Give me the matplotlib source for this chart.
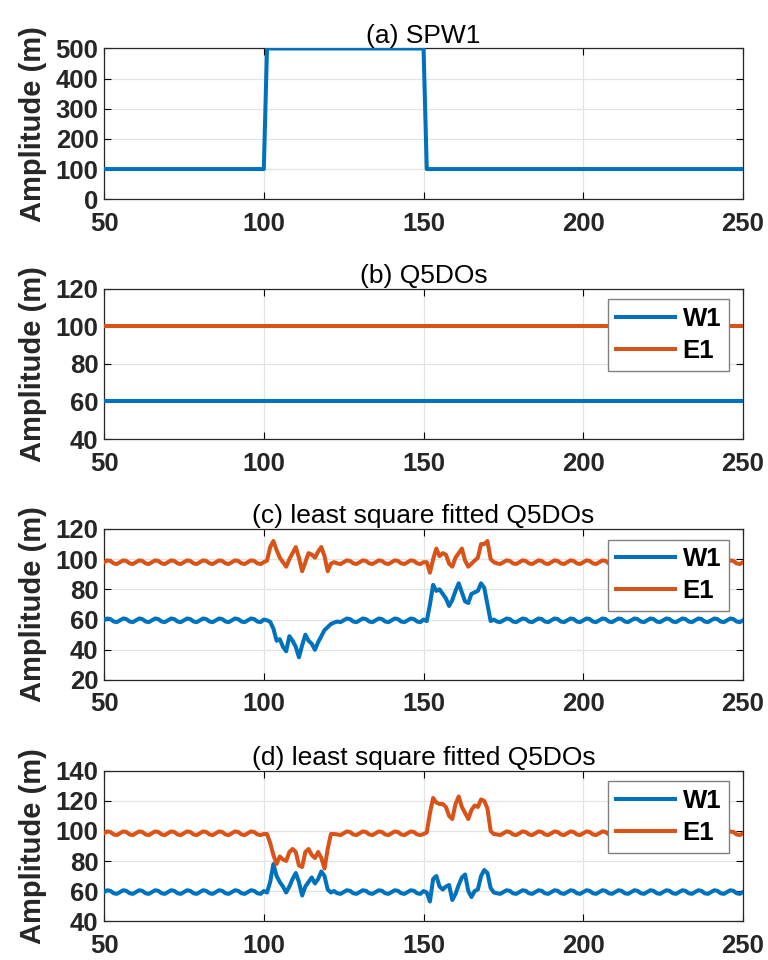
import matplotlib
matplotlib.use("Agg")
import matplotlib.pyplot as plt

plt.rcParams['font.family'] = ['Liberation Sans', 'DejaVu Sans']

# x axis: day index
x = list(range(50, 251))

# (a) SPW1 square pulse
spw1 = [100] * 51 + [500] * 50 + [100] * 100

# (b) Q5DOs
b_w1 = [60] * 201
b_e1 = [100] * 201

# (c) least square fitted Q5DOs
c_w1 = [
    59.5, 60.7, 60.3, 58.7, 58.3, 59.5, 60.7, 60.3, 58.7, 58.3,  # 50
    59.5, 60.7, 60.3, 58.7, 58.3, 59.5, 60.7, 60.3, 58.7, 58.3,  # 60
    59.5, 60.7, 60.3, 58.7, 58.3, 59.5, 60.7, 60.3, 58.7, 58.3,  # 70
    59.5, 60.7, 60.3, 58.7, 58.3, 59.5, 60.7, 60.3, 58.7, 58.3,  # 80
    59.5, 60.7, 60.3, 58.7, 58.3, 59.5, 60.7, 60.3, 58.7, 58.3,  # 90
    60, 59.5, 58.5, 54, 46, 47, 42, 39, 49, 46,                  # 100
    42, 35, 43, 50, 46, 44, 40, 45, 49, 53,                      # 110
    55, 57, 58, 58.7, 58.3, 59.5, 60.7, 60.3, 58.7, 58.3,        # 120
    59.5, 60.7, 60.3, 58.7, 58.3, 59.5, 60.7, 60.3, 58.7, 58.3,  # 130
    59.5, 60.7, 60.3, 58.7, 58.3, 59.5, 60.7, 60.3, 58.7, 58.3,  # 140
    60, 59, 70, 83, 79, 80, 77, 74, 69, 73,                      # 150
    79, 84, 78, 72, 71, 77, 78, 79, 84, 81,                      # 160
    70, 59, 60, 58.7, 58.3, 59.5, 60.7, 60.3, 58.7, 58.3,        # 170
    59.5, 60.7, 60.3, 58.7, 58.3, 59.5, 60.7, 60.3, 58.7, 58.3,  # 180
    59.5, 60.7, 60.3, 58.7, 58.3, 59.5, 60.7, 60.3, 58.7, 58.3,  # 190
    59.5, 60.7, 60.3, 58.7, 58.3, 59.5, 60.7, 60.3, 58.7, 58.3,  # 200
    59.5, 60.7, 60.3, 58.7, 58.3, 59.5, 60.7, 60.3, 58.7, 58.3,  # 210
    59.5, 60.7, 60.3, 58.7, 58.3, 59.5, 60.7, 60.3, 58.7, 58.3,  # 220
    59.5, 60.7, 60.3, 58.7, 58.3, 59.5, 60.7, 60.3, 58.7, 58.3,  # 230
    59.5, 60.7, 60.3, 58.7, 58.3, 59.5, 60.7, 60.3, 58.7, 58.3,  # 240
    59.5,                                                        # 250
]
c_e1 = [
    98, 99.2, 98.8, 97.2, 96.8, 98, 99.2, 98.8, 97.2, 96.8,      # 50
    98, 99.2, 98.8, 97.2, 96.8, 98, 99.2, 98.8, 97.2, 96.8,      # 60
    98, 99.2, 98.8, 97.2, 96.8, 98, 99.2, 98.8, 97.2, 96.8,      # 70
    98, 99.2, 98.8, 97.2, 96.8, 98, 99.2, 98.8, 97.2, 96.8,      # 80
    98, 99.2, 98.8, 97.2, 96.8, 98, 99.2, 98.8, 97.2, 96.8,      # 90
    98, 99, 108, 112, 106, 101, 98, 95, 100, 104,                # 100
    108, 101, 92, 98, 104, 103, 101, 105, 108, 102,              # 110
    92, 97, 98, 97.2, 96.8, 98, 99.2, 98.8, 97.2, 96.8,          # 120
    98, 99.2, 98.8, 97.2, 96.8, 98, 99.2, 98.8, 97.2, 96.8,      # 130
    98, 99.2, 98.8, 97.2, 96.8, 98, 99.2, 98.8, 97.2, 96.8,      # 140
    98, 98, 91, 100, 107, 102, 104, 103, 97, 95,                 # 150
    101, 104, 107, 99, 95, 97, 99, 101, 110, 110,                # 160
    112, 100, 98, 97.2, 96.8, 98, 99.2, 98.8, 97.2, 96.8,        # 170
    98, 99.2, 98.8, 97.2, 96.8, 98, 99.2, 98.8, 97.2, 96.8,      # 180
    98, 99.2, 98.8, 97.2, 96.8, 98, 99.2, 98.8, 97.2, 96.8,      # 190
    98, 99.2, 98.8, 97.2, 96.8, 98, 99.2, 98.8, 97.2, 96.8,      # 200
    98, 99.2, 98.8, 97.2, 96.8, 98, 99.2, 98.8, 97.2, 96.8,      # 210
    98, 99.2, 98.8, 97.2, 96.8, 98, 99.2, 98.8, 97.2, 96.8,      # 220
    98, 99.2, 98.8, 97.2, 96.8, 98, 99.2, 98.8, 97.2, 96.8,      # 230
    98, 99.2, 98.8, 97.2, 96.8, 98, 99.2, 98.8, 97.2, 96.8,      # 240
    98,                                                          # 250
]

# (d) least square fitted Q5DOs
d_w1 = [
    59.3, 60.5, 60.1, 58.5, 58.1, 59.3, 60.5, 60.1, 58.5, 58.1,  # 50
    59.3, 60.5, 60.1, 58.5, 58.1, 59.3, 60.5, 60.1, 58.5, 58.1,  # 60
    59.3, 60.5, 60.1, 58.5, 58.1, 59.3, 60.5, 60.1, 58.5, 58.1,  # 70
    59.3, 60.5, 60.1, 58.5, 58.1, 59.3, 60.5, 60.1, 58.5, 58.1,  # 80
    59.3, 60.5, 60.1, 58.5, 58.1, 59.3, 60.5, 60.1, 58.5, 58.1,  # 90
    60, 59, 66, 78, 70, 66, 63, 59, 63, 68,                      # 100
    72, 66, 57, 63, 66, 69, 65, 68, 73, 70,                      # 110
    61, 59, 60, 58.5, 58.1, 59.3, 60.5, 60.1, 58.5, 58.1,        # 120
    59.3, 60.5, 60.1, 58.5, 58.1, 59.3, 60.5, 60.1, 58.5, 58.1,  # 130
    59.3, 60.5, 60.1, 58.5, 58.1, 59.3, 60.5, 60.1, 58.5, 58.1,  # 140
    60, 59, 53, 68, 70, 63, 61, 63, 64, 54,                      # 150
    58, 64, 69, 71, 60, 56, 60, 61, 70, 74,                      # 160
    72, 62, 59, 58.5, 58.1, 59.3, 60.5, 60.1, 58.5, 58.1,        # 170
    59.3, 60.5, 60.1, 58.5, 58.1, 59.3, 60.5, 60.1, 58.5, 58.1,  # 180
    59.3, 60.5, 60.1, 58.5, 58.1, 59.3, 60.5, 60.1, 58.5, 58.1,  # 190
    59.3, 60.5, 60.1, 58.5, 58.1, 59.3, 60.5, 60.1, 58.5, 58.1,  # 200
    59.3, 60.5, 60.1, 58.5, 58.1, 59.3, 60.5, 60.1, 58.5, 58.1,  # 210
    59.3, 60.5, 60.1, 58.5, 58.1, 59.3, 60.5, 60.1, 58.5, 58.1,  # 220
    59.3, 60.5, 60.1, 58.5, 58.1, 59.3, 60.5, 60.1, 58.5, 58.1,  # 230
    59.3, 60.5, 60.1, 58.5, 58.1, 59.3, 60.5, 60.1, 58.5, 58.1,  # 240
    59.3,                                                        # 250
]
d_e1 = [
    98.5, 99.7, 99.3, 97.7, 97.3, 98.5, 99.7, 99.3, 97.7, 97.3,  # 50
    98.5, 99.7, 99.3, 97.7, 97.3, 98.5, 99.7, 99.3, 97.7, 97.3,  # 60
    98.5, 99.7, 99.3, 97.7, 97.3, 98.5, 99.7, 99.3, 97.7, 97.3,  # 70
    98.5, 99.7, 99.3, 97.7, 97.3, 98.5, 99.7, 99.3, 97.7, 97.3,  # 80
    98.5, 99.7, 99.3, 97.7, 97.3, 98.5, 99.7, 99.3, 97.7, 97.3,  # 90
    98, 98, 92, 84, 78, 83, 81, 80, 86, 88,                      # 100
    86, 77, 76, 86, 88, 84, 82, 86, 82, 75,                      # 110
    88, 98, 98, 97.7, 97.3, 98.5, 99.7, 99.3, 97.7, 97.3,        # 120
    98.5, 99.7, 99.3, 97.7, 97.3, 98.5, 99.7, 99.3, 97.7, 97.3,  # 130
    98.5, 99.7, 99.3, 97.7, 97.3, 98.5, 99.7, 99.3, 97.7, 97.3,  # 140
    98, 99, 112, 122, 119, 118, 118, 116, 110, 108,              # 150
    118, 123, 116, 112, 108, 114, 117, 116, 121, 120,            # 160
    115, 100, 98, 97.7, 97.3, 98.5, 99.7, 99.3, 97.7, 97.3,      # 170
    98.5, 99.7, 99.3, 97.7, 97.3, 98.5, 99.7, 99.3, 97.7, 97.3,  # 180
    98.5, 99.7, 99.3, 97.7, 97.3, 98.5, 99.7, 99.3, 97.7, 97.3,  # 190
    98.5, 99.7, 99.3, 97.7, 97.3, 98.5, 99.7, 99.3, 97.7, 97.3,  # 200
    98.5, 99.7, 99.3, 97.7, 97.3, 98.5, 99.7, 99.3, 97.7, 97.3,  # 210
    98.5, 99.7, 99.3, 97.7, 97.3, 98.5, 99.7, 99.3, 97.7, 97.3,  # 220
    98.5, 99.7, 99.3, 97.7, 97.3, 98.5, 99.7, 99.3, 97.7, 97.3,  # 230
    98.5, 99.7, 99.3, 97.7, 97.3, 98.5, 99.7, 99.3, 97.7, 97.3,  # 240
    98.5,                                                        # 250
]

titles = ['(a) SPW1', '(b) Q5DOs', '(c) least square fitted Q5DOs',
          '(d) least square fitted Q5DOs']
xticks = [50, 100, 150, 200, 250]
yticks_list = [
    [0, 100, 200, 300, 400, 500],
    [40, 60, 80, 100, 120],
    [20, 40, 60, 80, 100, 120],
    [40, 60, 80, 100, 120, 140],
]
series_names = ['W1', 'E1']

BLUE = '#0072BD'
ORANGE = '#D95319'

fig = plt.figure(figsize=(7.68, 9.6), dpi=100)
# axes boxes in figure fraction: left, bottom, width, height
boxes = [
    [0.1355, 0.7925, 0.832, 0.1570],
    [0.1355, 0.5427, 0.832, 0.1563],
    [0.1355, 0.2917, 0.832, 0.1573],
    [0.1355, 0.0406, 0.832, 0.1563],
]

panels = [
    [spw1],
    [b_w1, b_e1],
    [c_w1, c_e1],
    [d_w1, d_e1],
]

for i, box in enumerate(boxes):
    ax = fig.add_axes(box)
    lines = []
    for j, ys in enumerate(panels[i]):
        ln, = ax.plot(x, ys, color=[BLUE, ORANGE][j], lw=2.9,
                      label=series_names[j], zorder=3)
        lines.append(ln)
    ax.set_xlim(50, 250)
    yt = yticks_list[i]
    ax.set_ylim(yt[0], yt[-1])
    ax.set_xticks(xticks)
    ax.set_yticks(yt)
    ax.grid(True, color='#e3e3e3', lw=0.9, zorder=0)
    ax.tick_params(direction='in', top=True, right=True, length=5,
                   width=0.8, labelsize=18.5, pad=4)
    ax.tick_params(axis='x', pad=9)
    for lab in ax.get_xticklabels() + ax.get_yticklabels():
        lab.set_fontweight('bold')
        lab.set_color('#262626')
    for sp in ax.spines.values():
        sp.set_color('#262626')
        sp.set_linewidth(0.9)
    ax.set_title(titles[i], fontsize=19, pad=4, color='black')
    ax.set_ylabel('Amplitude (m)', fontsize=21, fontweight='bold',
                  color='#262626', labelpad=6)
    if len(lines) > 1:
        leg = ax.legend(loc='upper right', bbox_to_anchor=(0.978, 0.93),
                        prop={'weight': 'bold', 'size': 18.5},
                        handlelength=2.3, fancybox=False, framealpha=1,
                        borderpad=0.3, labelspacing=0.3, handletextpad=0.3,
                        borderaxespad=0)
        leg.get_frame().set_edgecolor('#808080')
        leg.get_frame().set_linewidth(1.0)

fig.savefig('out.png', dpi=100)
